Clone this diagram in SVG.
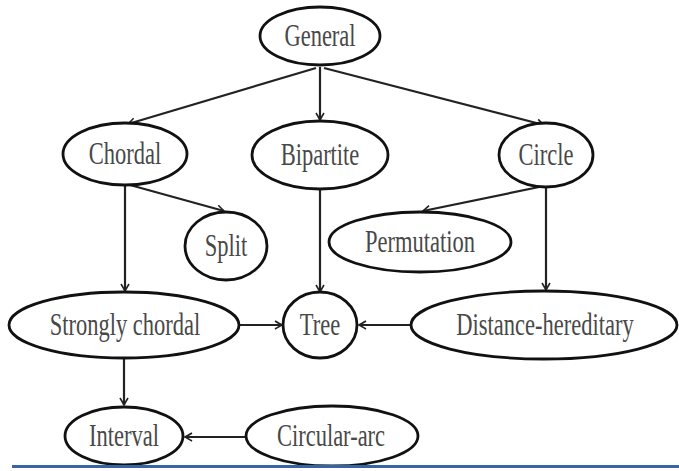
<svg xmlns="http://www.w3.org/2000/svg" width="679" height="471" viewBox="0 0 679 471">
<style>
.node ellipse{fill:#fff;stroke:#111;stroke-width:2.8}
.node text{font-family:"Liberation Serif","DejaVu Serif",serif;font-size:22.5px;fill:#484848;text-anchor:middle}
#edges line{stroke:#222;stroke-width:2.2;marker-end:url(#ah)}
</style>
<defs>
<marker id="ah" viewBox="-8 -5 10 10" refX="0" refY="0" markerWidth="10" markerHeight="10" markerUnits="userSpaceOnUse" orient="auto">
<path d="M-7,-4 Q-2,-1 0,0 Q-2,1 -7,4" fill="none" stroke="#222" stroke-width="1.6"/>
</marker>
</defs>
<rect width="679" height="471" fill="#fff"/>
<g id="edges">
<line x1="316" y1="68" x2="128" y2="124"/>
<line x1="320" y1="67" x2="320" y2="120"/>
<line x1="324" y1="68" x2="544" y2="125"/>
<line x1="130" y1="185" x2="224" y2="211"/>
<line x1="125" y1="186" x2="125" y2="291"/>
<line x1="320" y1="190" x2="320" y2="292"/>
<line x1="544" y1="186" x2="423" y2="211"/>
<line x1="546" y1="187" x2="546" y2="290"/>
<line x1="240" y1="325" x2="282" y2="325"/>
<line x1="410" y1="325" x2="359" y2="325"/>
<line x1="124" y1="358" x2="124" y2="405"/>
<line x1="246" y1="437" x2="185" y2="437"/>
</g>
<g id="general" class="node"><ellipse cx="320" cy="36" rx="60" ry="29"/><text transform="translate(320,46) scale(1,1.4)">General</text></g>
<g id="chordal" class="node"><ellipse cx="125" cy="154" rx="62" ry="31"/><text transform="translate(125,164) scale(1,1.4)">Chordal</text></g>
<g id="bipartite" class="node"><ellipse cx="320" cy="155" rx="68" ry="34"/><text transform="translate(320,165) scale(1,1.4)">Bipartite</text></g>
<g id="circle" class="node"><ellipse cx="546" cy="155" rx="47" ry="32"/><text transform="translate(546,165) scale(1,1.4)">Circle</text></g>
<g id="split" class="node"><ellipse cx="226" cy="246" rx="41" ry="34"/><text transform="translate(226,256) scale(1,1.4)">Split</text></g>
<g id="permutation" class="node"><ellipse cx="420" cy="242" rx="91" ry="30"/><text transform="translate(420,252) scale(1,1.4)">Permutation</text></g>
<g id="strongly-chordal" class="node"><ellipse cx="124" cy="325" rx="115" ry="33"/><text transform="translate(125,335) scale(1,1.4)">Strongly chordal</text></g>
<g id="tree" class="node"><ellipse cx="320" cy="325" rx="37" ry="33"/><text transform="translate(320,335) scale(1,1.4)">Tree</text></g>
<g id="distance-hereditary" class="node"><ellipse cx="544" cy="325" rx="133" ry="34"/><text transform="translate(545,335) scale(1,1.4)">Distance-hereditary</text></g>
<g id="interval" class="node"><ellipse cx="124" cy="436" rx="59" ry="29"/><text transform="translate(124,446) scale(1,1.4)">Interval</text></g>
<g id="circular-arc" class="node"><ellipse cx="332" cy="436" rx="86" ry="30"/><text transform="translate(331,446) scale(1,1.4)">Circular-arc</text></g>
<line x1="12" y1="466.5" x2="679" y2="466.5" stroke="#3565a5" stroke-width="3"/>
</svg>
